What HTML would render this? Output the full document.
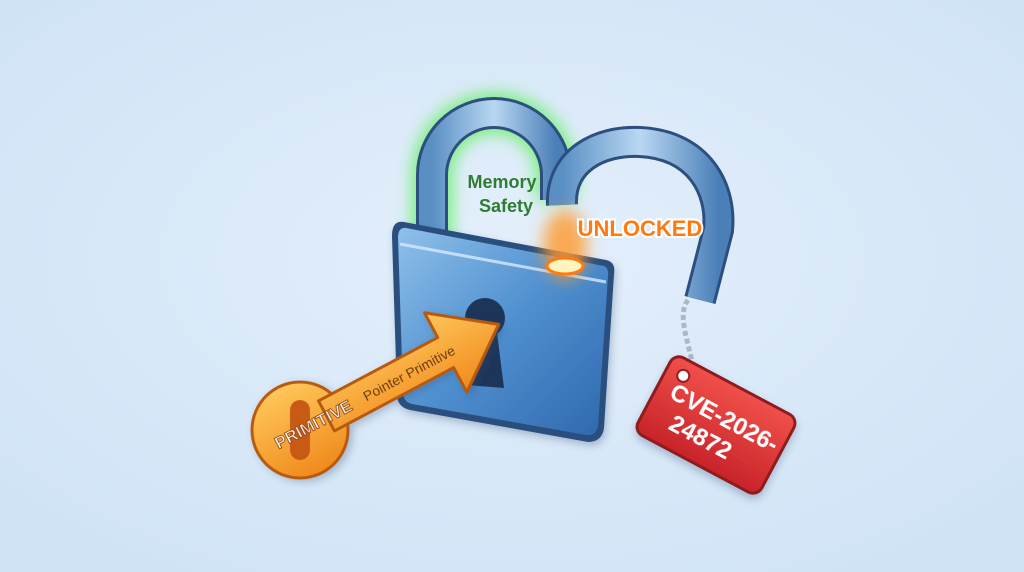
<!DOCTYPE html>
<html><head><meta charset="utf-8"><style>
html,body{margin:0;padding:0;width:1024px;height:572px;overflow:hidden;background:#d8e7f7}
svg{display:block}
text{font-family:"Liberation Sans",sans-serif;font-weight:bold}
</style></head><body>
<svg width="1024" height="572" viewBox="0 0 1024 572">
<defs>
<radialGradient id="bg" cx="50%" cy="45%" r="65%"><stop offset="0" stop-color="#e4effb"/><stop offset="1" stop-color="#d0e3f6"/></radialGradient>
<linearGradient id="body" x1="0" y1="0" x2="1" y2="1"><stop offset="0" stop-color="#8fc0ea"/><stop offset="0.5" stop-color="#4f8fcf"/><stop offset="1" stop-color="#2f68ae"/></linearGradient>
<linearGradient id="sh" x1="0" y1="0" x2="1" y2="0"><stop offset="0" stop-color="#5a8fc4"/><stop offset="0.5" stop-color="#b9d7f2"/><stop offset="1" stop-color="#4a7fb8"/></linearGradient>
<linearGradient id="key" x1="0" y1="0" x2="0" y2="1"><stop offset="0" stop-color="#ffc65a"/><stop offset="1" stop-color="#f08a1c"/></linearGradient>
<linearGradient id="tag" x1="0" y1="0" x2="0" y2="1"><stop offset="0" stop-color="#f0504a"/><stop offset="1" stop-color="#c8232a"/></linearGradient>
<filter id="gg" x="-50%" y="-50%" width="200%" height="200%"><feGaussianBlur stdDeviation="8"/></filter>
<filter id="ds" x="-20%" y="-20%" width="140%" height="140%"><feDropShadow dx="2" dy="4" stdDeviation="4" flood-color="#2a4a70" flood-opacity="0.3"/></filter>
</defs>
<rect width="1024" height="572" fill="url(#bg)"/>
<path d="M432 245 V175 A62 62 0 0 1 556 175 V200" fill="none" stroke="#5cf05c" stroke-width="40" filter="url(#gg)" opacity="0.8"/>
<path d="M432 245 V175 A62 62 0 0 1 556 175 V200" fill="none" stroke="#2c4f7e" stroke-width="32"/>
<path d="M432 245 V175 A62 62 0 0 1 556 175 V200" fill="none" stroke="url(#sh)" stroke-width="26"/>
<path d="M562 205 C560 160 600 140 640 142 C700 145 722 190 718 230 L700 300" fill="none" stroke="#2c4f7e" stroke-width="32"/>
<path d="M562 205 C560 160 600 140 640 142 C700 145 722 190 718 230 L700 300" fill="none" stroke="url(#sh)" stroke-width="26"/>
<g filter="url(#ds)">
<path d="M404 222 L606 260 Q616 262 614 274 L604 428 Q602 442 588 442 L410 410 Q397 407 397 394 L392 236 Q392 220 404 222Z" fill="#2c4f7e"/>
<path d="M406 228 L604 266 Q609 268 608 276 L598 426 Q596 436 586 435 L412 404 Q403 402 403 392 L398 238 Q398 227 406 228Z" fill="url(#body)"/>
<path d="M400 244 L606 282" stroke="#d6eaff" stroke-width="3" opacity="0.8"/>
</g>
<circle cx="485" cy="318" r="20" fill="#1d3558"/>
<path d="M474 325 L466 385 L504 388 L496 325 Z" fill="#1d3558"/>
<ellipse cx="565" cy="245" rx="22" ry="35" fill="#ff9a2a" filter="url(#gg)" opacity="0.8"/>
<ellipse cx="565" cy="266" rx="18" ry="8" fill="#fff3c0" stroke="#ff7a10" stroke-width="3"/>
<path d="M688 300 C676 315 690 345 694 372" fill="none" stroke="#aab8c8" stroke-width="5" stroke-dasharray="5 3"/>
<g transform="translate(716 425) rotate(28)" filter="url(#ds)">
<rect x="-70" y="-44" width="140" height="88" rx="10" fill="url(#tag)" stroke="#8f1a1f" stroke-width="3"/>
<circle cx="-52" cy="-28" r="6" fill="#fff" stroke="#8f1a1f" stroke-width="2"/>
<text x="4" y="-2" text-anchor="middle" font-size="24" fill="#fff">CVE-2026-</text>
<text x="-8" y="26" text-anchor="middle" font-size="24" fill="#fff">24872</text>
</g>
<g transform="translate(300 430) rotate(-28)" filter="url(#ds)">
<circle cx="0" cy="0" r="48" fill="url(#key)" stroke="#b85a10" stroke-width="3"/>
<path d="M30 -17 L165 -17 L165 -45 L225 0 L165 45 L165 17 L30 17 Z" fill="url(#key)" stroke="#b85a10" stroke-width="3" stroke-linejoin="round"/>
<rect x="-30" y="-10" width="60" height="20" rx="10" fill="#c85a18" transform="rotate(-62)"/>
<text x="-28" y="7" font-size="17" fill="#fff" stroke="#9a4a10" stroke-width="1">PRIMITIVE</text>
<text x="72" y="6" font-size="14" fill="#6a3408" style="font-weight:normal">Pointer Primitive</text>
</g>
<text x="502" y="188" text-anchor="middle" font-size="18" fill="#2e7d32">Memory</text>
<text x="506" y="212" text-anchor="middle" font-size="18" fill="#2e7d32">Safety</text>
<text x="640" y="236" text-anchor="middle" font-size="22" fill="#ff7a10" stroke="#fff" stroke-width="4" paint-order="stroke">UNLOCKED</text>
</svg>
</body></html>
